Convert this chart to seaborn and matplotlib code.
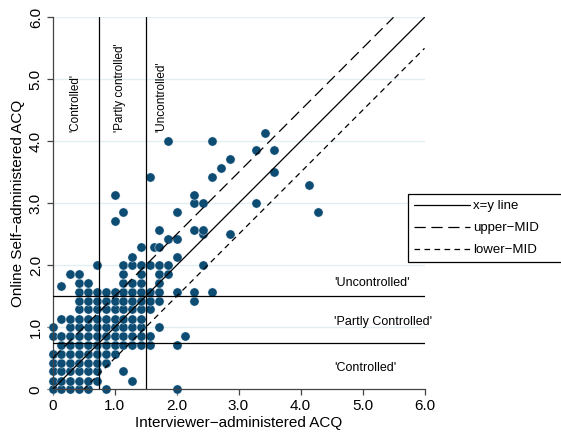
import numpy as np
import pandas as pd
import seaborn as sns
import matplotlib.pyplot as plt

# ACQ scores, grouped by online (y) value
rows = {
    0.00: [0, 0.14, 0.29, 0.43, 0.57, 0.86, 2.0],
    0.14: [0, 0.14, 0.29, 0.43, 0.57, 0.71, 1.29],
    0.29: [0, 0.14, 0.29, 0.43, 0.57, 0.71, 1.14],
    0.43: [0, 0.14, 0.29, 0.43, 0.57, 0.71, 0.86],
    0.57: [0, 0.14, 0.29, 0.43, 0.57, 0.71, 0.86, 1.0],
    0.71: [0.14, 0.29, 0.43, 0.57, 0.71, 0.86, 1.0, 1.14, 1.29, 1.43, 1.57, 2.0],
    0.86: [0, 0.14, 0.29, 0.43, 0.57, 0.71, 0.86, 1.0, 1.14, 1.29, 1.43, 1.57, 2.14],
    1.00: [0, 0.29, 0.43, 0.57, 0.71, 0.86, 1.0, 1.14, 1.29, 1.43, 1.71],
    1.14: [0.14, 0.29, 0.43, 0.57, 0.71, 0.86, 1.0, 1.14, 1.29, 1.43],
    1.29: [0.43, 0.57, 0.71, 0.86, 1.0, 1.14, 1.29, 1.43, 1.57],
    1.43: [0.43, 0.57, 0.71, 0.86, 1.0, 1.14, 1.29, 1.43, 1.57, 1.71, 2.29],
    1.57: [0.43, 0.57, 0.71, 0.86, 1.0, 1.14, 1.29, 1.43, 1.57, 1.71, 2.0, 2.29, 2.57],
    1.67: [0.14],
    1.71: [0.43, 0.57, 1.14, 1.29, 1.43, 1.71],
    1.86: [0.29, 0.43, 1.14, 1.43, 1.71, 1.86],
    2.00: [0.71, 1.14, 1.29, 1.43, 1.57, 1.71, 1.86, 2.43],
    2.14: [1.29, 2.0],
    2.29: [1.43, 1.64, 1.71],
    2.43: [1.86, 2.0],
    2.50: [2.43, 2.86],
    2.57: [1.71, 2.29, 2.43],
    2.71: [1.0],
    2.86: [1.14, 2.0, 4.29],
    3.00: [2.29, 2.43, 3.29],
    3.14: [1.0, 2.29],
    3.29: [4.14],
    3.43: [1.57, 2.57],
    3.50: [3.57],
    3.57: [2.71],
    3.71: [2.86],
    3.86: [3.29, 3.57],
    4.00: [1.86, 2.57],
    4.14: [3.43],
}
interviewer = [x for y, xs in rows.items() for x in xs]
online = [y for y, xs in rows.items() for x in xs]
df = pd.DataFrame({"interviewer": interviewer, "online": online})

mid = 0.5
cutoffs = [0.75, 1.5]
ticks = [0, 1, 2, 3, 4, 5, 6]
tick_labels = ["0", "1.0", "2.0", "3.0", "4.0", "5.0", "6.0"]
vert_labels = ["'Controlled'", "'Partly controlled'", "'Uncontrolled'"]
vert_x = [0.37, 1.09, 1.76]
horiz_labels = ["'Controlled'", "'Partly Controlled'", "'Uncontrolled'"]
horiz_y = [0.35, 1.08, 1.71]

sns.set_style("ticks")
plt.rcParams["font.family"] = ["Liberation Sans", "DejaVu Sans"]
plt.rcParams["text.color"] = "black"
plt.rcParams["axes.labelcolor"] = "black"

fig = plt.figure(figsize=(5.61, 4.33), dpi=100)
ax = fig.add_axes([0.0936, 0.1005, 0.6631, 0.8595])

for t in ticks[1:]:
    ax.axhline(t, color="#e2eff1", lw=1, zorder=0)

sns.scatterplot(data=df, x="interviewer", y="online", ax=ax, color="#0d4c73",
                s=44, edgecolor="white", linewidth=0.3, clip_on=False, zorder=2)

line_x = np.array([0, 6])
ax.plot(line_x, line_x, color="black", lw=0.9, label="x=y line", zorder=3)
ax.plot(line_x - [0, mid], line_x - [0, mid] + mid, color="black", lw=0.9,
        dashes=(9, 4.5), label="upper\u2212MID", zorder=3)
ax.plot(line_x + [mid, 0], line_x + [mid, 0] - mid, color="black", lw=0.9,
        dashes=(4.5, 3.5), label="lower\u2212MID", zorder=3)

for c in cutoffs:
    ax.axvline(c, color="black", lw=0.9, zorder=3)
    ax.axhline(c, color="black", lw=0.9, zorder=3)

for lab, x in zip(vert_labels, vert_x):
    ax.text(x, 4.15, lab, rotation=90, ha="center", va="bottom", fontsize=8.5)
for lab, y in zip(horiz_labels, horiz_y):
    ax.text(4.54, y, lab, ha="left", va="center", fontsize=9)

ax.set_xlim(0, 6)
ax.set_ylim(0, 6)
ax.set_xticks(ticks)
ax.set_xticklabels(tick_labels, fontsize=11)
ax.set_yticks(ticks)
ax.set_yticklabels(tick_labels, fontsize=11, rotation=90, va="center")
ax.tick_params(direction="out", length=4, width=0.9, color="#444444",
               labelcolor="black", pad=3)
ax.set_xlabel("Interviewer\u2212administered ACQ", fontsize=11, labelpad=2)
ax.set_ylabel("Online Self\u2212administered ACQ", fontsize=11, labelpad=3)
for side in ["top", "right"]:
    ax.spines[side].set_visible(False)
for side in ["left", "bottom"]:
    ax.spines[side].set_color("#444444")
    ax.spines[side].set_linewidth(0.9)

leg = ax.legend(loc="upper left", bbox_to_anchor=(0.728, 0.39, 0.3, 0.162),
                bbox_transform=fig.transFigure, mode="expand", borderaxespad=0,
                fontsize=9.5, handlelength=4.2, handletextpad=0.25,
                labelspacing=0.75, borderpad=0.45, fancybox=False,
                edgecolor="black", framealpha=1)
leg.get_frame().set_linewidth(0.9)

fig.savefig("out.png", dpi=100)
